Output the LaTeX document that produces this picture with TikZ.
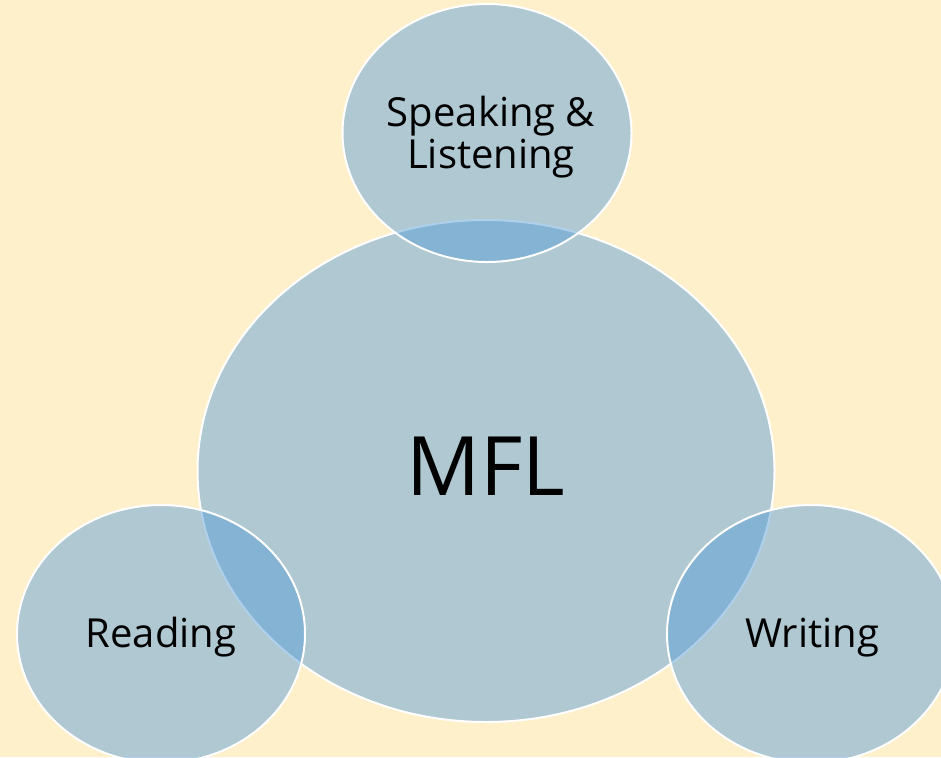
\documentclass[tikz,border=0pt]{standalone}
\usepackage{fontspec}
\setmainfont{Open Sans}
\usetikzlibrary{shapes.geometric}

\definecolor{cream}{HTML}{FFF0CC}
\definecolor{venn}{RGB}{87,157,215}

\tikzset{
  blob/.style={ellipse, draw=white, line width=1pt, fill=venn, fill opacity=0.47, inner sep=0pt},
  word/.style={font=\fontsize{20}{21}\selectfont, inner sep=0pt, align=center},
}

\begin{document}
\begin{tikzpicture}[x=0.5pt, y=-0.5pt]
  \fill[cream] (0, 0) rectangle (941, 757);
  \useasboundingbox (0, 0) rectangle (941, 757);
  \clip (0, 0) rectangle (941, 757);

  \node[blob, minimum width=288.5pt, minimum height=251pt] (mfl) at (486, 471) {};
  \node[blob, minimum width=144.5pt, minimum height=129pt] (speak) at (487, 133) {};
  \node[blob, minimum width=144pt, minimum height=129pt] (read) at (161, 634) {};
  \node[blob, minimum width=144pt, minimum height=129pt] (write) at (811, 634) {};

  \node[word, anchor=base, font=\fontsize{41}{44}\selectfont] (mfltext) at (486, 495) {MFL};
  \node[word, anchor=base] (speaktext) at (491, 168) {Speaking \&\\Listening};
  \node[word, anchor=base] (readtext) at (161, 647) {Reading};
  \node[word, anchor=base] (writetext) at (812, 647) {Writing};
\end{tikzpicture}
\end{document}
